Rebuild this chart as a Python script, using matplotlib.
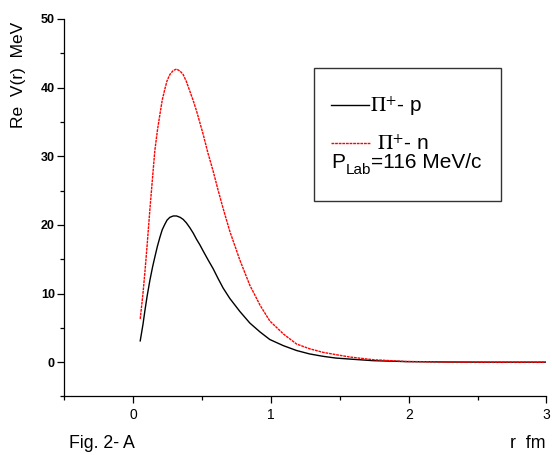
import matplotlib
matplotlib.use('Agg')
import matplotlib.pyplot as plt
from matplotlib.patches import Rectangle
from matplotlib.ticker import MultipleLocator

plt.rcParams['font.family'] = ['Liberation Sans', 'DejaVu Sans']
plt.rcParams['mathtext.fontset'] = 'stix'

# pi+ - p
r_p = [0.05, 0.07, 0.084, 0.10, 0.12, 0.14, 0.156, 0.175, 0.193, 0.21, 0.229, 0.245,
       0.265, 0.29, 0.314, 0.34, 0.362, 0.385, 0.41, 0.435, 0.459, 0.483, 0.507,
       0.54, 0.58, 0.615, 0.652, 0.70, 0.773, 0.846, 0.92, 0.991, 1.09, 1.185,
       1.28, 1.378, 1.47, 1.572, 1.74, 1.98, 2.3, 2.6, 3.0]
v_p = [3.1, 5.5, 7.5, 9.6, 11.9, 13.9, 15.3, 16.9, 18.2, 19.3, 20.1, 20.7,
       21.1, 21.3, 21.3, 21.1, 20.8, 20.3, 19.6, 18.8, 17.9, 17.1, 16.2,
       15.0, 13.6, 12.2, 10.8, 9.3, 7.4, 5.7, 4.4, 3.3, 2.4, 1.7,
       1.2, 0.85, 0.6, 0.45, 0.22, 0.08, 0.02, 0.0, 0.0]

# pi+ - n
r_n = [0.05, 0.07, 0.084, 0.10, 0.12, 0.14, 0.156, 0.175, 0.193, 0.21, 0.229, 0.245,
       0.265, 0.29, 0.314, 0.34, 0.362, 0.385, 0.41, 0.435, 0.459, 0.483, 0.507,
       0.54, 0.58, 0.615, 0.652, 0.70, 0.773, 0.846, 0.92, 0.991, 1.09, 1.185,
       1.28, 1.378, 1.47, 1.572, 1.74, 1.98, 2.3, 2.6, 3.0]
v_n = [6.3, 10.0, 13.1, 17.0, 22.2, 27.0, 30.8, 33.8, 36.1, 38.2, 39.8, 41.0,
       41.9, 42.5, 42.7, 42.4, 41.9, 40.9, 39.5, 38.1, 36.6, 34.9, 33.2,
       30.6, 27.8, 25.1, 22.4, 19.1, 14.9, 11.2, 8.3, 6.0, 4.1, 2.65,
       1.95, 1.43, 1.1, 0.75, 0.36, 0.1, 0.02, 0.0, 0.0]

red_ls = (0, (2, 0.6))

fig = plt.figure(figsize=(5.52, 4.55), dpi=100)
ax = fig.add_axes([0.1168, 0.1286, 0.8732, 0.8297])

ax.plot(r_p, v_p, color='black', lw=1.0)
ax.plot(r_n, v_n, color='red', lw=1.0, linestyle=red_ls)

ax.set_xlim(-0.5, 3)
ax.set_ylim(-5, 50)
ax.spines['top'].set_visible(False)
ax.spines['right'].set_visible(False)
for s in ('left', 'bottom'):
    ax.spines[s].set_linewidth(0.9)

ax.xaxis.set_major_locator(MultipleLocator(1))
ax.xaxis.set_minor_locator(MultipleLocator(0.5))
ax.yaxis.set_major_locator(MultipleLocator(10))
ax.yaxis.set_minor_locator(MultipleLocator(5))
ax.tick_params(which='major', direction='out', length=5, width=0.9)
ax.tick_params(which='minor', direction='out', length=3, width=0.9)
ax.tick_params(axis='x', which='major', labelsize=10, pad=3)
ax.tick_params(axis='y', which='major', labelsize=9, pad=2)
for lab in ax.get_yticklabels():
    lab.set_fontweight('bold')

ax.set_ylabel('Re  V(r)  MeV', fontsize=12.5)
ax.yaxis.set_label_coords(-0.079, 0.853)

fig.text(69 / 552, 1 - 443 / 455, 'Fig. 2- A', fontsize=12.8, va='center', ha='left')
fig.text(545 / 552, 1 - 443 / 455, 'r  fm', fontsize=12.8, va='center', ha='right')

# legend box drawn by hand
ax.add_patch(Rectangle((0.5176, 0.518), 0.3874, 0.353, transform=ax.transAxes,
                       fill=False, edgecolor='#333333', lw=1.0, clip_on=False))
ax.plot([0.552, 0.632], [0.772, 0.772], transform=ax.transAxes, color='black', lw=1.0)
ax.plot([0.552, 0.634], [0.671, 0.671], transform=ax.transAxes, color='red', lw=1.0,
        linestyle=red_ls)
ax.text(0.634, 0.754, r'$\Pi^{+}$- p', transform=ax.transAxes, fontsize=15, va='baseline')
ax.text(0.648, 0.653, r'$\Pi^{+}$- n', transform=ax.transAxes, fontsize=15, va='baseline')

base_y = 0.6045
t_p = ax.text(0.554, base_y, 'P', transform=ax.transAxes, fontsize=15, va='baseline')
t_lab = ax.annotate('Lab', xy=(1, base_y), xycoords=(t_p, 'axes fraction'),
                    xytext=(0, -4), textcoords='offset points',
                    fontsize=11, va='baseline', ha='left')
ax.annotate('=116 MeV/c', xy=(1, base_y), xycoords=(t_lab, 'axes fraction'),
            fontsize=15, va='baseline', ha='left')

fig.savefig('out.png', dpi=100)
